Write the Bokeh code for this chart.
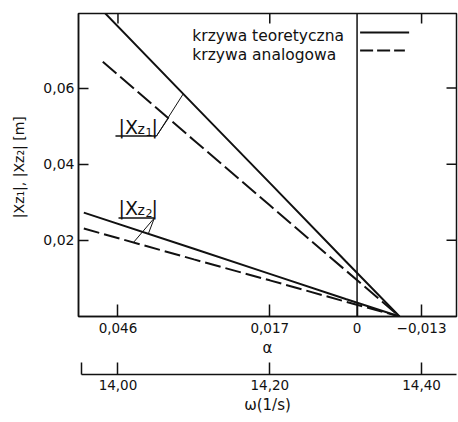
import numpy as np
from bokeh.plotting import figure
from bokeh.layouts import column
from bokeh.models import Range1d, LinearAxis, FixedTicker, Span
from bokeh.core.properties import value
from bokeh.embed import file_html
from bokeh.resources import INLINE

# Amplitudes |Xz1|, |Xz2| [m] against angular frequency omega [1/s]
omega_z1 = [13.98, 14.10, 14.20, 14.30, 14.371]
xz1_theory = [0.0803, 0.0556, 0.0351, 0.0145, 0.0]
xz1_analog = [0.0669, 0.0463, 0.0292, 0.0121, 0.0]

omega_z2 = [13.955, 14.10, 14.20, 14.30, 14.371]
xz2_theory = [0.0273, 0.0178, 0.0112, 0.0046, 0.0]
xz2_analog = [0.0231, 0.0150, 0.0095, 0.0039, 0.0]

# axis ticks
y_ticks = [0.02, 0.04, 0.06]
y_tick_labels = ["0,02", "0,04", "0,06"]
alpha_zero_omega = 14.315
alpha_tick_omega = [14.00, 14.20, alpha_zero_omega, 14.40]
alpha_tick_labels = ["0,046", "0,017", "0", "\u22120,013"]
omega_ticks = [13.9515, 14.00, 14.20, 14.40]
omega_tick_labels = ["", "14,00", "14,20", "14,40"]
top_ticks = [14.00, 14.20, 14.40]
legend_labels = ["krzywa teoretyczna", "krzywa analogowa"]

INK = "#111111"
FONT = "DejaVu Sans"
X_RANGE = (13.948, 14.446)
Y_RANGE = (0.0, 0.0796)

p = figure(width=458, height=361,
           x_range=Range1d(*X_RANGE), y_range=Range1d(*Y_RANGE),
           output_backend="svg", toolbar_location=None,
           x_axis_location=None, y_axis_location=None,
           min_border_left=78, min_border_right=2,
           min_border_top=13, min_border_bottom=45,
           outline_line_color=INK, outline_line_width=1.5,
           background_fill_color="white", border_fill_color="white")
p.grid.visible = False


def base_axis(ax, size="13.5px"):
    ax.axis_line_color = INK
    ax.axis_line_width = 1.5
    ax.major_tick_line_color = INK
    ax.major_tick_line_width = 1.5
    ax.minor_tick_line_color = None
    ax.major_tick_out = 0
    ax.major_label_text_font = FONT
    ax.major_label_text_font_size = size
    ax.major_label_text_color = INK
    ax.axis_label_text_font = FONT
    ax.axis_label_text_font_style = "normal"
    ax.axis_label_text_color = INK
    return ax


# left value axis
yax = base_axis(LinearAxis(ticker=FixedTicker(ticks=y_ticks),
                           major_label_overrides=dict(zip(y_ticks, y_tick_labels))), "14px")
yax.major_tick_in = 10
yax.major_label_standoff = 4
yax.axis_label = "|Xz\u2081|, |Xz\u2082|  [m]"
yax.axis_label_text_font_size = "14px"
yax.axis_label_standoff = 13
p.add_layout(yax, "left")

# alpha scale directly under the frame
aax = base_axis(LinearAxis(ticker=FixedTicker(ticks=alpha_tick_omega),
                           major_label_overrides=dict(zip(alpha_tick_omega, alpha_tick_labels))))
aax.major_tick_in = 12
aax.major_label_standoff = 6
aax.axis_label = "\u03b1"
aax.axis_label_text_font_size = "15px"
aax.axis_label_standoff = 3
p.add_layout(aax, "below")

# inward ticks on the top and right edges of the frame
tick_dx = (X_RANGE[1] - X_RANGE[0]) * 10 / 378.5
tick_dy = (Y_RANGE[1] - Y_RANGE[0]) * 10 / 303
p.segment(x0=top_ticks, y0=[Y_RANGE[1]] * 3, x1=top_ticks, y1=[Y_RANGE[1] - tick_dy] * 3,
          line_color=INK, line_width=1.5)
p.segment(x0=[X_RANGE[1]] * 3, y0=y_ticks, x1=[X_RANGE[1] - tick_dx] * 3, y1=y_ticks,
          line_color=INK, line_width=1.5)

# alpha = 0 line
p.add_layout(Span(location=alpha_zero_omega, dimension="height",
                  line_color=INK, line_width=1.5))

# curves
p.line(omega_z1, xz1_theory, line_color=INK, line_width=2)
p.line(omega_z1, xz1_analog, line_color=INK, line_width=2, line_dash="18 5")
p.line(omega_z2, xz2_theory, line_color=INK, line_width=2)
p.line(omega_z2, xz2_analog, line_color=INK, line_width=2, line_dash="16 5")

# legend: text left of the alpha = 0 line, samples right of it
leg_x = 14.098
leg_y = [0.0738, 0.0688]
p.text(x=[leg_x] * 2, y=leg_y, text=legend_labels,
       text_font=value(FONT), text_font_size="15.5px", text_color=INK,
       text_align="left", text_baseline="alphabetic")
p.segment(x0=[14.319], y0=[0.0746], x1=[14.3836], y1=[0.0746],
          line_color=INK, line_width=2)
p.segment(x0=[14.319], y0=[0.0699], x1=[14.378], y1=[0.0699],
          line_color=INK, line_width=2, line_dash="13 4")


def amp_label(x0, y0, idx):
    pieces = [("|X", 0, 0, "19px"), ("z", 19, 2, "14px"),
              (idx, 27, 5, "11px"), ("|", 33, 0, "19px")]
    for t, dx, dy, fs in pieces:
        p.text(x=[x0], y=[y0], text=[t], x_offset=dx, y_offset=dy,
               text_font=value(FONT), text_font_size=fs, text_color=INK,
               text_align="left", text_baseline="alphabetic")


def leader(xa, xb, ya, ends):
    # underline below the label, then pointers onto the curves
    p.segment(x0=[xa], y0=[ya], x1=[xb], y1=[ya], line_color=INK, line_width=1.5)
    for om, series_x, series_y in ends:
        p.segment(x0=[xb], y0=[ya], x1=[om], y1=[float(np.interp(om, series_x, series_y))],
                  line_color=INK, line_width=1)


amp_label(14.0007, 0.0498, "1")
leader(13.9967, 14.0507, 0.0474,
       [(14.086, omega_z1, xz1_theory), (14.0664, omega_z1, xz1_analog)])

amp_label(14.0007, 0.0286, "2")
leader(14.0007, 14.048, 0.0259,
       [(14.040, omega_z2, xz2_theory), (14.0204, omega_z2, xz2_analog)])

# separate omega scale underneath, sharing the horizontal range
q = figure(width=458, height=61, x_range=p.x_range, y_range=Range1d(0, 1),
           output_backend="svg", toolbar_location=None,
           x_axis_location=None, y_axis_location=None,
           min_border_left=78, min_border_right=2,
           min_border_top=12, min_border_bottom=48,
           outline_line_color=None,
           background_fill_color="white", border_fill_color="white")
q.grid.visible = False
wax = base_axis(LinearAxis(ticker=FixedTicker(ticks=omega_ticks),
                           major_label_overrides=dict(zip(omega_ticks, omega_tick_labels)),
                           bounds=(omega_ticks[0], X_RANGE[1])))
wax.major_tick_in = 12
wax.major_label_standoff = 5
wax.axis_label = "\u03c9(1/s)"
wax.axis_label_text_font_size = "15px"
wax.axis_label_standoff = 3
q.add_layout(wax, "below")

layout = column(p, q, spacing=0)
open("out.html", "w").write(file_html(layout, INLINE))
